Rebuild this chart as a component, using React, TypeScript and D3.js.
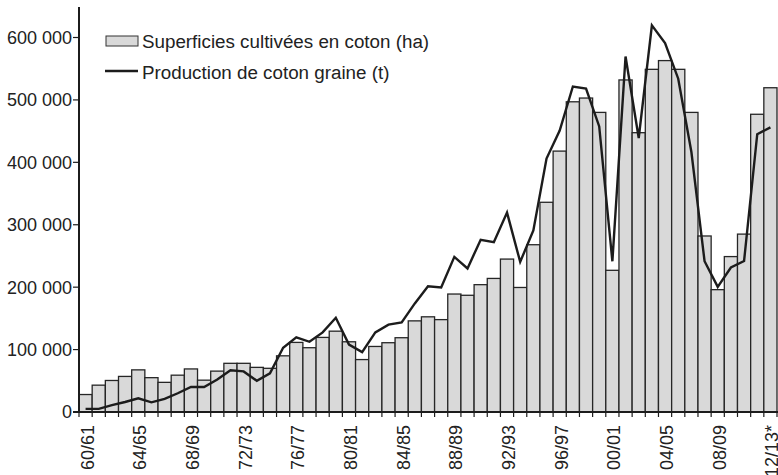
import React from "react";
import * as d3 from "d3";

// campagnes 60/61 -> 12/13*
const seasons = d3.range(1960, 2013).map((y, i, arr) => {
  const a = String(y % 100).padStart(2, "0");
  const b = String((y + 1) % 100).padStart(2, "0");
  return `${a}/${b}${i === arr.length - 1 ? "*" : ""}`;
});

// superficies (ha)
const surfaces = [
  28000, 43000, 50500, 57000, 67500, 55000, 47500, 59000, 69000, 51000,
  65500, 78000, 78000, 71500, 70000, 90000, 111500, 103000, 119500, 129500,
  112500, 84000, 105000, 111000, 119000, 146000, 152500, 148000, 189000, 187000,
  204000, 214000, 245000, 199500, 268000, 336000, 418000, 497000, 503000, 480000,
  227000, 532000, 447500, 549000, 563000, 549000, 480000, 282000, 196000, 249000,
  285000, 477000, 519500,
];

// production coton graine (t)
const production = [
  5000, 5000, 11000, 16000, 22000, 15500, 21000, 30000, 40000, 40000,
  52000, 67000, 65000, 50000, 62000, 103000, 119500, 112500, 127500, 151000,
  108000, 96000, 127500, 140000, 143500, 174000, 201500, 199500, 248500, 230000,
  276000, 272000, 319500, 240500, 291000, 406000, 451000, 521500, 518000, 457500,
  241500, 569500, 439000, 619500, 591000, 534000, 416500, 241500, 200500, 231500,
  242000, 445000, 456000,
];

const yTicks = [0, 100000, 200000, 300000, 400000, 500000, 600000];

const legendLabels = ["Superficies cultivées en coton (ha)", "Production de coton graine (t)"];

const W = 778;
const H = 475;
const left = 79;
const right = 777;
const base = 412;
const fs = 18;
const fontFamily = "'Liberation Sans', Arial, sans-serif";

const fmt = (v: number) => d3.format(",")(v).replace(/,/g, " ");

export default function App() {
  const x = d3.scaleBand<string>().domain(seasons).range([left, right]).padding(0);
  const y = d3.scaleLinear().domain([0, 600000]).range([base, 37.5]);

  const line = d3
    .line<number>()
    .x((_, i) => (x(seasons[i]) as number) + x.bandwidth() / 2)
    .y((d) => y(d));

  const boundaries = seasons.map((s) => x(s) as number).concat([right]);

  return (
    <svg width={W} height={H} style={{ position: "absolute", left: 0, top: 0 }} fontFamily={fontFamily}>
      <rect width={W} height={H} fill="#fff" />
      {/* bars */}
      {surfaces.map((v, i) => (
        <rect
          key={seasons[i]}
          x={x(seasons[i])}
          y={y(v)}
          width={x.bandwidth()}
          height={base - y(v)}
          fill="#d9d9d9"
          stroke="#262626"
          strokeWidth={1.3}
        />
      ))}
      {/* production line */}
      <path d={line(production) || ""} fill="none" stroke="#1c1c1c" strokeWidth={2.4} strokeLinejoin="miter" />

      {/* y axis */}
      <line x1={left} x2={left} y1={7} y2={base} stroke="#1c1c1c" strokeWidth={2} />
      {yTicks.map((t) => (
        <g key={t}>
          <line x1={left - 6} x2={left} y1={y(t)} y2={y(t)} stroke="#1c1c1c" strokeWidth={1.2} />
          <text x={left - 7} y={y(t)} dy="0.36em" textAnchor="end" fontSize={fs} fill="#222">
            {fmt(t)}
          </text>
        </g>
      ))}

      {/* x axis */}
      <line x1={left - 6} x2={W} y1={base} y2={base} stroke="#1c1c1c" strokeWidth={2} />
      {boundaries.map((bx, i) => (
        <line key={i} x1={bx} x2={bx} y1={base} y2={base + 5} stroke="#1c1c1c" strokeWidth={1.2} />
      ))}
      {seasons.map((s, i) =>
        i % 4 === 0 ? (
          <text
            key={s}
            transform={`translate(${(x(s) as number) + x.bandwidth() / 2 + 1.5},${base + 13}) rotate(-90)`}
            dy="0.36em"
            textAnchor="end"
            fontSize={fs}
            fill="#222"
          >
            {s}
          </text>
        ) : null
      )}

      {/* legend */}
      <rect x={106} y={36} width={32} height={10} fill="#d9d9d9" stroke="#333" strokeWidth={1} />
      <text x={142} y={41} dy="0.36em" fontSize={18.8} fill="#222">
        {legendLabels[0]}
      </text>
      <line x1={105} x2={138} y1={71} y2={71} stroke="#1c1c1c" strokeWidth={2.6} />
      <text x={142} y={72} dy="0.36em" fontSize={18.8} fill="#222">
        {legendLabels[1]}
      </text>
    </svg>
  );
}
